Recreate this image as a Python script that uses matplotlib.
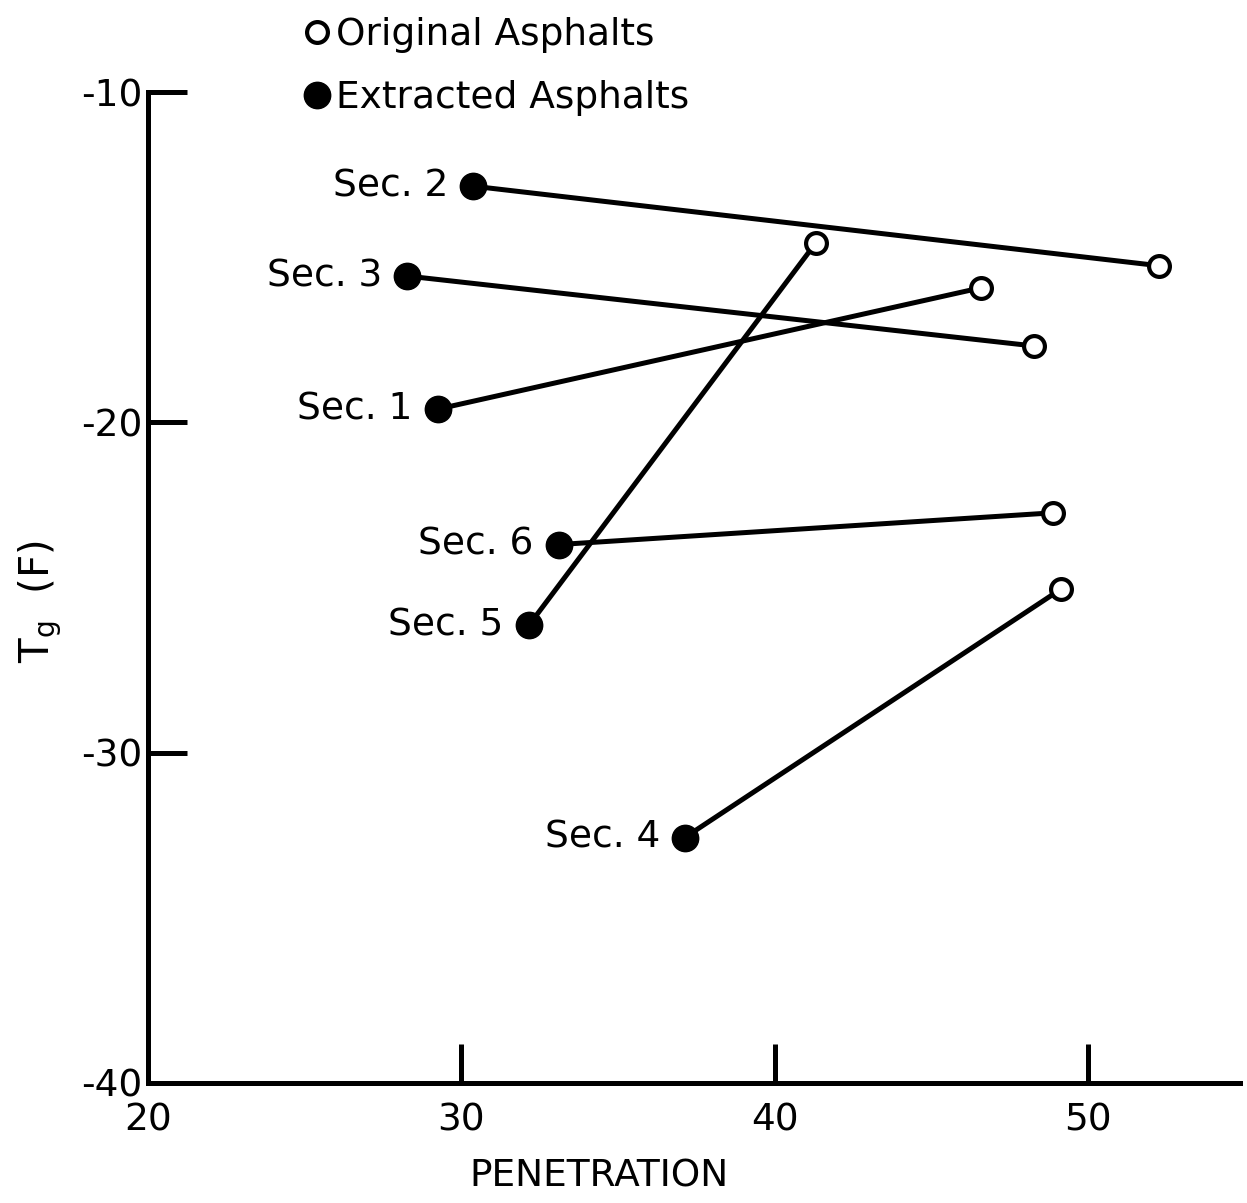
import matplotlib.pyplot as plt

sections = ["Sec. 1", "Sec. 2", "Sec. 3", "Sec. 4", "Sec. 5", "Sec. 6"]
# extracted (filled) asphalts
pen_extracted = [29.25, 30.37, 28.26, 37.13, 32.15, 33.11]
tg_extracted = [-19.6, -12.85, -15.57, -32.57, -26.15, -23.7]
# original (open) asphalts
pen_original = [46.57, 52.28, 48.29, 49.15, 41.31, 48.87]
tg_original = [-15.93, -15.26, -17.69, -25.04, -14.57, -22.74]

xticks = [20, 30, 40, 50]
yticks = [-40, -30, -20, -10]

fs = 27
lw = 3.6
plt.rcParams['font.family'] = 'DejaVu Sans'
plt.rcParams['axes.unicode_minus'] = False

fig = plt.figure(figsize=(12.47, 12.03), dpi=100)
ax = fig.add_axes([0.1187, 0.0998, 0.8757, 0.8237])

for i in range(len(sections)):
    ax.plot([pen_extracted[i], pen_original[i]], [tg_extracted[i], tg_original[i]],
            color='black', lw=lw, zorder=2)
    ax.annotate(sections[i], (pen_extracted[i], tg_extracted[i]),
                xytext=(-18, 0), textcoords='offset points',
                ha='right', va='center', fontsize=fs)

ax.plot(pen_original, tg_original, 'o', ls='none', ms=15, mfc='white',
        mec='black', mew=3, zorder=3, label='Original Asphalts')
ax.plot(pen_extracted, tg_extracted, 'o', ls='none', ms=19, mfc='black',
        mec='black', zorder=3, label='Extracted Asphalts')

ax.set_xlim(20, 54.85)
ax.set_ylim(-40, -10)
ax.set_xticks(xticks)
ax.set_yticks(yticks)
ax.tick_params(direction='in', length=28, width=lw, labelsize=fs)
ax.tick_params(axis='x', pad=14)
ax.tick_params(axis='y', pad=4)
for s in ['top', 'right']:
    ax.spines[s].set_visible(False)
for s in ['left', 'bottom']:
    ax.spines[s].set_linewidth(lw)

fig.text(0.032, 0.5, r'T$_\mathregular{g}$  (F)', rotation=90, fontsize=29,
         ha='center', va='center')
fig.text(0.48, 0.022, 'PENETRATION', fontsize=fs, ha='center', va='center')

leg = ax.legend(loc='upper left', bbox_to_anchor=(0.226, 1.008), bbox_transform=fig.transFigure,
                frameon=False, fontsize=fs, handlelength=0.5, handletextpad=0.25,
                labelspacing=0.72, borderpad=0.2, markerscale=1.0)

fig.savefig('out.png', dpi=100)
